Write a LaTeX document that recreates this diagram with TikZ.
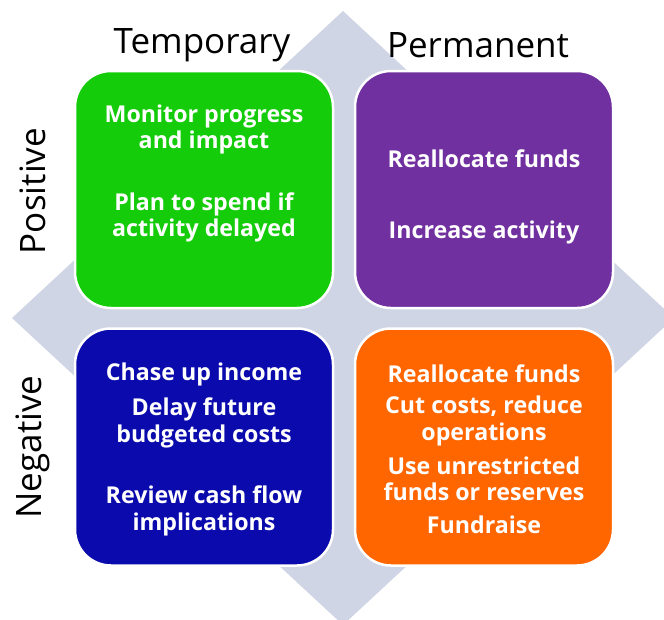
\documentclass[tikz,border=0pt]{standalone}
\usepackage{fontspec}
\setmainfont{Open Sans}
\begin{document}
\begin{tikzpicture}[x=1pt,y=-1pt,
  quad/.style={draw=white,line width=2.5pt,rounded corners=36pt,minimum width=258pt,minimum height=237pt,inner sep=0pt},
  txt/.style={text=white,font=\fontsize{23.2}{26.5}\selectfont\bfseries,align=center,inner sep=0pt},
  head/.style={font=\fontsize{35}{40}\selectfont,inner sep=0pt}]
\useasboundingbox (0,0) rectangle (664,619);
\definecolor{diam}{HTML}{CFD5E4}
\definecolor{qgreen}{HTML}{14CC0A}
\definecolor{qpurple}{HTML}{7030A0}
\definecolor{qblue}{HTML}{0B0BAD}
\definecolor{qorange}{HTML}{FF6600}
\begin{scope}
\clip (0,0) rectangle (664,619);
\fill[diam] (343,11) -- (674,318) -- (343,625) -- (12,318) -- cycle;
\end{scope}
\node[quad,fill=qgreen] (tp) at (204,189.5) {};
\node[quad,fill=qpurple] (pp) at (484,189.5) {};
\node[quad,fill=qblue] (tn) at (204,447) {};
\node[quad,fill=qorange] (pn) at (484,447) {};
\node[head] (temp) at (202,45) {Temporary};
\node[head] (perm) at (478,45) {Permanent};
\node[head,rotate=90] (pos) at (33,191) {Positive};
\node[head,rotate=90] (neg) at (33,447) {Negative};
\node[txt] (g1) at (204,129.5) {Monitor progress\\and impact};
\node[txt] (g2) at (204,217.5) {Plan to spend if\\activity delayed};
\node[txt] (p1) at (484,159) {Reallocate funds};
\node[txt] (p2) at (484,232) {Increase activity};
\node[txt] (b1) at (204,374) {Chase up income};
\node[txt] (b2) at (204,423) {Delay future\\budgeted costs};
\node[txt] (b3) at (204,511) {Review cash flow\\implications};
\node[txt] (o1) at (484,374) {Reallocate funds};
\node[txt] (o2) at (484,421) {Cut costs, reduce\\operations};
\node[txt] (o3) at (484,479) {Use unrestricted\\funds or reserves};
\node[txt] (o4) at (484,525) {Fundraise};
\end{tikzpicture}
\end{document}
